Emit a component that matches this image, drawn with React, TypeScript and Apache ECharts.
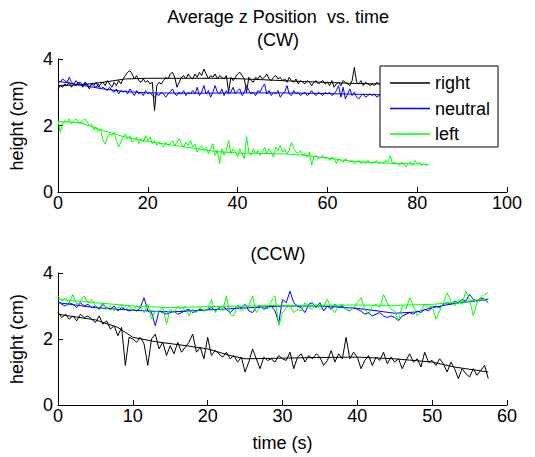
import React, { useEffect, useRef } from "react";
import * as echarts from "echarts";

// sample interval of the recorded traces (s)
const STEP = 0.5;

// ---- CW (top) ----
const cwRight = [
  3.10, 3.20, 3.15, 3.25, 3.20, 3.30, 3.15, 3.25, 3.20, 3.30,
  3.25, 3.15, 3.30, 3.20, 3.10, 3.25, 3.20, 3.30, 3.15, 3.25,
  3.30, 3.20, 3.35, 3.25, 3.15, 3.30, 3.20, 3.35, 3.25, 3.40,
  3.50, 3.60, 3.65, 3.55, 3.40, 3.50, 3.35, 3.30, 3.40, 3.30,
  3.35, 3.25, 3.30, 2.45, 3.20, 3.30, 3.25, 3.35, 3.45, 3.40,
  3.55, 3.60, 3.45, 3.15, 3.30, 3.45, 3.50, 3.40, 3.55, 3.45,
  3.40, 3.55, 3.45, 3.60, 3.50, 3.70, 3.55, 3.40, 3.50, 3.45,
  3.55, 3.40, 3.50, 3.45, 3.40, 3.50, 3.00, 3.45, 3.35, 3.45,
  3.55, 3.60, 3.50, 3.40, 3.00, 3.45, 3.35, 3.30, 3.45, 3.40,
  3.50, 3.40, 3.45, 3.55, 3.40, 3.35, 3.45, 3.50, 3.40, 3.45,
  3.35, 3.40, 3.30, 3.45, 3.35, 3.30, 3.40, 3.25, 3.35, 3.30,
  3.25, 3.35, 3.30, 3.20, 3.30, 3.35, 3.25, 3.30, 3.35, 3.25,
  3.30, 3.20, 3.35, 3.15, 3.25, 3.30, 3.20, 3.35, 3.30, 3.25,
  3.20, 3.35, 3.75, 3.30, 3.25, 3.35, 3.20, 3.30, 3.25, 3.20,
  3.25, 3.20, 3.30, 3.25, 3.20, 3.25, 3.30, 3.20, 3.25, 3.20,
  3.25, 3.20, 3.30, 3.25, 3.20, 3.25, 3.20, 3.30, 3.25, 3.20,
  3.25, 3.20, 3.25, 3.20, 3.25,
];
const cwNeutral = [
  3.35, 3.30, 3.40, 3.35, 3.30, 3.45, 3.30, 3.25, 3.35, 3.25,
  3.30, 3.20, 3.30, 3.25, 3.15, 3.25, 3.20, 3.15, 3.25, 3.10,
  3.15, 3.10, 3.05, 3.15, 3.05, 3.00, 3.10, 2.95, 3.05, 3.00,
  3.05, 2.95, 3.10, 3.00, 2.90, 3.05, 2.95, 3.00, 2.90, 3.05,
  2.95, 3.00, 2.90, 2.85, 2.95, 2.90, 3.00, 2.95, 2.85, 2.95,
  3.00, 3.10, 2.95, 2.90, 3.00, 2.95, 3.05, 2.90, 3.00, 2.95,
  3.05, 2.95, 3.15, 2.90, 3.00, 3.20, 2.95, 3.05, 2.85, 3.00,
  3.20, 3.00, 2.95, 3.10, 2.90, 3.05, 2.95, 3.00, 3.15, 2.95,
  3.05, 3.10, 2.90, 3.00, 3.20, 3.05, 2.95, 3.00, 2.90, 3.05,
  3.00, 3.15, 3.25, 2.95, 3.05, 2.90, 3.00, 2.95, 3.05, 2.85,
  2.95, 3.00, 3.20, 2.95, 2.90, 3.05, 2.95, 3.00, 2.90, 2.95,
  3.00, 2.90, 2.95, 3.05, 2.95, 2.90, 3.00, 2.95, 2.90, 3.00,
  2.95, 3.00, 2.90, 2.95, 3.05, 3.20, 2.85, 3.15, 2.80, 2.95,
  3.10, 2.90, 3.00, 2.85, 2.80, 2.90, 2.95, 2.85, 2.90, 2.95,
  2.90, 2.95, 2.85, 2.90, 2.95, 2.90, 2.85, 2.90, 2.95, 2.90,
  2.85, 2.90, 2.95, 2.90, 2.85, 2.90, 2.95, 2.90, 2.85, 2.90,
  2.90, 2.85, 2.90, 2.95, 2.90,
];
const cwLeft = [
  2.15, 1.80, 2.05, 2.15, 2.10, 2.20, 2.05, 2.15, 2.20, 2.10,
  2.05, 2.15, 2.20, 2.10, 2.00, 2.05, 1.85, 1.95, 1.80, 1.90,
  1.55, 1.45, 1.65, 1.75, 1.70, 1.80, 1.55, 1.35, 1.50, 1.65,
  1.75, 1.60, 1.70, 1.50, 1.55, 1.65, 1.45, 1.60, 1.50, 1.70,
  1.55, 1.65, 1.45, 1.55, 1.40, 1.50, 1.45, 1.35, 1.50, 1.40,
  1.45, 1.55, 1.40, 1.50, 1.60, 1.45, 1.35, 1.50, 1.40, 1.55,
  1.35, 1.45, 1.20, 1.30, 1.40, 1.25, 1.35, 1.15, 1.30, 1.45,
  1.10, 1.25, 0.85, 1.30, 1.10, 1.25, 1.55, 1.15, 1.30, 1.20,
  1.05, 1.30, 1.15, 1.00, 1.65, 1.20, 1.10, 1.30, 1.15, 1.25,
  1.10, 1.20, 1.35, 1.15, 1.30, 1.20, 1.05, 1.35, 1.25, 1.40,
  1.20, 1.30, 1.15, 1.25, 1.50, 1.30, 1.20, 1.15, 1.25, 1.10,
  1.15, 1.05, 1.20, 0.80, 1.05, 1.10, 1.00, 1.05, 1.10, 1.00,
  1.05, 0.95, 1.05, 1.00, 0.85, 1.00, 0.95, 0.90, 1.00, 0.95,
  0.90, 0.95, 0.85, 0.90, 0.95, 0.85, 0.90, 0.85, 0.95, 0.90,
  0.85, 0.90, 0.95, 0.85, 0.90, 0.85, 0.95, 0.90, 1.10, 0.85,
  0.90, 0.85, 0.80, 0.90, 0.85, 0.75, 0.85, 0.90, 0.80, 0.95,
  0.85, 0.90, 0.80, 0.85, 0.80, 0.83,
];
const cwRightFit = [[0, 3.2], [5, 3.22], [10, 3.3], [15, 3.4], [20, 3.42], [30, 3.42], [38, 3.42], [45, 3.38], [55, 3.32], [65, 3.27], [75, 3.24], [82, 3.22]];
const cwNeutralFit = [[0, 3.33], [5, 3.22], [10, 3.1], [15, 3.02], [20, 2.98], [30, 2.97], [40, 2.98], [50, 2.98], [60, 2.96], [70, 2.93], [82, 2.9]];
const cwLeftFit = [[0, 2.12], [5, 2.08], [10, 1.85], [15, 1.65], [20, 1.52], [25, 1.42], [30, 1.32], [35, 1.22], [40, 1.17], [45, 1.16], [50, 1.15], [55, 1.1], [60, 1.02], [65, 0.93], [70, 0.89], [75, 0.86], [82.5, 0.83]];

// ---- CCW (bottom) ----
const ccwRight = [
  2.80, 2.65, 2.75, 2.60, 2.70, 2.55, 2.75, 2.65, 2.70, 2.60,
  2.50, 2.70, 2.45, 2.55, 2.30, 2.40, 2.10, 2.35, 1.20, 2.05,
  2.00, 1.90, 2.05, 1.85, 1.20, 2.00, 2.15, 1.70, 1.90, 1.50,
  1.80, 1.55, 1.90, 1.60, 1.75, 1.90, 2.15, 1.60, 1.75, 1.40,
  2.05, 1.50, 1.65, 1.55, 1.45, 1.60, 1.40, 1.50, 1.30, 1.45,
  1.00, 1.30, 1.70, 1.40, 1.10, 1.45, 1.35, 1.40, 1.30, 1.50,
  1.40, 1.35, 1.60, 1.10, 1.45, 1.55, 1.30, 1.50, 1.40, 1.55,
  1.45, 1.20, 1.35, 1.65, 1.30, 1.55, 1.40, 2.05, 1.40, 1.60,
  1.45, 1.10, 1.35, 1.50, 1.20, 1.45, 1.35, 1.60, 1.25, 1.45,
  1.30, 1.40, 1.10, 1.35, 1.55, 1.30, 1.40, 1.15, 1.60, 1.30,
  1.35, 1.20, 1.40, 1.25, 1.00, 1.30, 1.10, 0.80, 1.10, 0.95,
  0.85, 1.10, 0.90, 1.05, 1.20, 0.80,
];
const ccwNeutral = [
  3.15, 3.05, 3.00, 3.10, 3.05, 2.95, 3.10, 3.00, 3.05, 2.95,
  3.00, 2.90, 3.05, 2.95, 2.90, 3.00, 2.85, 2.95, 2.90, 2.85,
  2.90, 2.85, 2.95, 3.25, 2.85, 2.80, 2.40, 2.85, 2.80, 2.75,
  2.80, 2.85, 2.75, 2.80, 2.85, 2.90, 2.80, 2.85, 2.90, 2.85,
  2.90, 2.95, 2.85, 2.95, 3.00, 2.90, 2.80, 2.90, 3.00, 2.95,
  3.05, 2.85, 2.80, 2.95, 3.00, 2.90, 2.95, 3.00, 2.85, 2.50,
  3.20, 3.10, 3.45, 3.10, 3.00, 2.95, 2.80, 3.05, 3.10, 2.95,
  3.10, 2.85, 3.00, 2.90, 3.05, 2.95, 3.00, 2.90, 2.85, 2.95,
  2.90, 2.85, 2.75, 2.80, 2.70, 2.75, 2.80, 2.70, 2.65, 2.70,
  2.65, 2.55, 2.70, 2.75, 2.80, 2.75, 2.85, 2.80, 2.90, 2.85,
  2.95, 3.00, 2.95, 3.05, 3.10, 3.05, 3.15, 3.10, 3.20, 3.15,
  3.35, 3.20, 3.15, 3.25, 3.20, 3.10,
];
const ccwLeft = [
  3.30, 3.15, 3.25, 3.10, 3.35, 3.05, 3.15, 3.30, 3.10, 3.20,
  3.00, 2.95, 3.10, 2.90, 3.00, 2.85, 2.95, 3.05, 2.90, 3.00,
  2.85, 3.00, 2.95, 2.80, 3.05, 2.60, 2.85, 2.80, 2.95, 2.45,
  2.90, 2.80, 3.00, 2.85, 3.00, 2.70, 2.90, 2.80, 2.95, 2.85,
  2.90, 3.20, 2.80, 2.95, 2.85, 3.30, 2.75, 2.70, 3.00, 2.85,
  2.95, 3.00, 3.30, 2.80, 2.95, 3.00, 2.90, 3.15, 3.30, 2.40,
  2.80, 2.95, 3.00, 2.80, 2.90, 2.85, 3.10, 2.95, 2.90, 3.05,
  2.90, 3.00, 3.20, 2.95, 2.80, 3.00, 3.05, 2.90, 2.85, 2.95,
  3.10, 3.25, 2.90, 2.75, 3.00, 3.05, 2.95, 3.35, 3.10, 2.90,
  2.85, 2.55, 3.00, 2.90, 3.25, 3.00, 2.70, 2.85, 3.05, 2.95,
  3.00, 2.60, 2.85, 3.10, 3.40, 3.15, 3.00, 3.20, 3.05, 3.45,
  3.20, 2.70, 3.10, 3.25, 3.35, 3.40,
];
const ccwRightFit = [[0, 2.75], [5, 2.58], [8, 2.35], [10, 2.05], [13, 1.92], [17, 1.8], [20, 1.7], [23, 1.5], [25, 1.4], [30, 1.42], [35, 1.44], [40, 1.45], [45, 1.4], [50, 1.3], [53, 1.15], [57.5, 1.0]];
const ccwNeutralFit = [[0, 3.1], [5, 2.95], [10, 2.87], [15, 2.82], [20, 2.88], [25, 2.94], [30, 3.0], [35, 3.0], [40, 2.93], [45, 2.78], [48, 2.82], [50, 2.95], [53, 3.08], [57.5, 3.2]];
const ccwLeftFit = [[0, 3.2], [5, 3.1], [10, 3.0], [15, 2.95], [20, 2.98], [30, 3.02], [40, 3.03], [45, 3.02], [50, 3.05], [55, 3.15], [57.5, 3.22]];

const legendNames = ["right", "neutral", "left"];
const cwXTicks = { min: 0, max: 100, interval: 20 };
const ccwXTicks = { min: 0, max: 60, interval: 10 };
const yTicks = { min: 0, max: 4, interval: 2 };

const BLACK = "#000000";
const BLUE = "#0000ff";
const GREEN = "#00ff00";
const FONT = "Liberation Sans, Arial, sans-serif";

const pairs = (vals: number[]) => vals.map((v, i) => [i * STEP, v]);

export default function App() {
  const ref = useRef<HTMLDivElement>(null);
  useEffect(() => {
    if (!ref.current) return;
    const chart = echarts.init(ref.current, undefined, { renderer: "svg" });
    const axisCommon = {
      axisLine: { lineStyle: { color: BLACK, width: 1 } },
      axisTick: { inside: true, length: 5, lineStyle: { color: BLACK } },
      axisLabel: { color: BLACK, fontSize: 18, fontFamily: FONT },
      splitLine: { show: false },
    };
    const xAxis = (gi: number, t: any, name?: string) => ({
      type: "value",
      gridIndex: gi,
      ...t,
      ...axisCommon,
      axisLabel: { ...axisCommon.axisLabel, margin: 2 },
      name: name || "",
      nameLocation: "middle",
      nameGap: 29,
      nameTextStyle: { color: BLACK, fontSize: 18, fontFamily: FONT },
    });
    const yAxis = (gi: number) => ({
      type: "value",
      gridIndex: gi,
      ...yTicks,
      ...axisCommon,
      axisLabel: { ...axisCommon.axisLabel, margin: 5 },
      name: "height (cm)",
      nameLocation: "middle",
      nameGap: 32,
      nameRotate: 90,
      nameTextStyle: { color: BLACK, fontSize: 18, fontFamily: FONT },
    });
    const line = (name: string, data: any[], color: string, gi: number, z: number) => ({
      type: "line",
      name,
      data,
      xAxisIndex: gi,
      yAxisIndex: gi,
      symbol: "none",
      lineStyle: { color, width: 1 },
      itemStyle: { color },
      z,
    });
    chart.setOption({
      animation: false,
      backgroundColor: "#ffffff",
      grid: [
        { left: 49, top: 59, width: 458, height: 133 },
        { left: 49, top: 273, width: 458, height: 132 },
      ],
      xAxis: [xAxis(0, cwXTicks), xAxis(1, ccwXTicks, "time (s)")],
      yAxis: [yAxis(0), yAxis(1)],
      legend: {
        data: legendNames,
        orient: "vertical",
        left: 380,
        top: 66,
        padding: [8, 8, 4, 10],
        icon: "rect",
        itemWidth: 40,
        itemHeight: 1.3,
        itemGap: 7.5,
        backgroundColor: "#ffffff",
        borderColor: BLACK,
        borderWidth: 1,
        borderRadius: 0,
        textStyle: { color: BLACK, fontSize: 18, fontFamily: FONT, lineHeight: 18 },
        selectedMode: false,
      },
      graphic: [
        { type: "text", x: 278, y: 17, style: { text: "Average z Position  vs. time", font: `18px ${FONT}`, fill: BLACK, textAlign: "center", textVerticalAlign: "middle" } },
        { type: "text", x: 278, y: 40, style: { text: "(CW)", font: `18px ${FONT}`, fill: BLACK, textAlign: "center", textVerticalAlign: "middle" } },
        { type: "text", x: 278, y: 254, style: { text: "(CCW)", font: `18px ${FONT}`, fill: BLACK, textAlign: "center", textVerticalAlign: "middle" } },
      ],
      series: [
        line("right", pairs(cwRight), BLACK, 0, 2),
        line("right fit", cwRightFit, BLACK, 0, 2),
        line("neutral", pairs(cwNeutral), BLUE, 0, 3),
        line("neutral fit", cwNeutralFit, BLUE, 0, 3),
        line("left", pairs(cwLeft), GREEN, 0, 3),
        line("left fit", cwLeftFit, GREEN, 0, 3),
        line("right ccw", pairs(ccwRight), BLACK, 1, 2),
        line("right ccw fit", ccwRightFit, BLACK, 1, 2),
        line("neutral ccw", pairs(ccwNeutral), BLUE, 1, 2),
        line("neutral ccw fit", ccwNeutralFit, BLUE, 1, 2),
        line("left ccw", pairs(ccwLeft), GREEN, 1, 3),
        line("left ccw fit", ccwLeftFit, GREEN, 1, 3),
      ],
    });
    return () => chart.dispose();
  }, []);
  return <div ref={ref} style={{ position: "absolute", left: 0, top: 0, width: 535, height: 457 }} />;
}
